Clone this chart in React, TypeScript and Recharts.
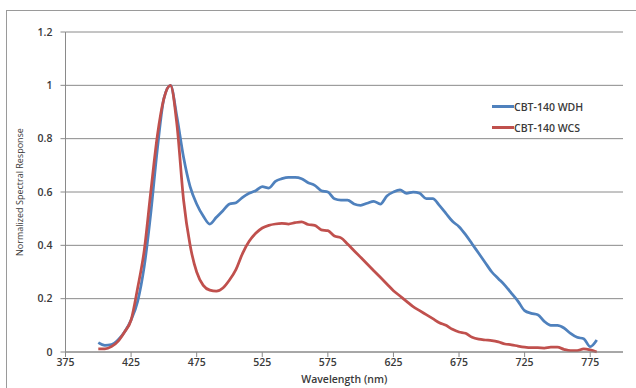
import { LineChart, Line, XAxis, YAxis, CartesianGrid, Legend } from 'recharts'

// wavelength samples (nm), every 5 nm
const wavelengths = [
  400, 405, 410, 415, 420, 425, 430, 435, 440, 445, 450, 455, 460, 465, 470, 475, 480, 485, 490, 495,
  500, 505, 510, 515, 520, 525, 530, 535, 540, 545, 550, 555, 560, 565, 570, 575, 580, 585, 590, 595,
  600, 605, 610, 615, 620, 625, 630, 635, 640, 645, 650, 655, 660, 665, 670, 675, 680, 685, 690, 695,
  700, 705, 710, 715, 720, 725, 730, 735, 740, 745, 750, 755, 760, 765, 770, 775, 780,
]

const wdh = [
  0.035, 0.025, 0.028, 0.045, 0.075, 0.12, 0.19, 0.32, 0.52, 0.76, 0.95, 1.0, 0.88, 0.73, 0.62, 0.555, 0.51, 0.48, 0.505, 0.53,
  0.555, 0.56, 0.58, 0.595, 0.605, 0.62, 0.615, 0.64, 0.65, 0.655, 0.655, 0.65, 0.635, 0.625, 0.605, 0.6, 0.575, 0.57, 0.57, 0.555,
  0.55, 0.558, 0.565, 0.555, 0.585, 0.6, 0.608, 0.595, 0.6, 0.595, 0.575, 0.575, 0.55, 0.52, 0.49, 0.47, 0.44, 0.405, 0.37, 0.335,
  0.3, 0.275, 0.25, 0.22, 0.19, 0.155, 0.145, 0.14, 0.115, 0.1, 0.1, 0.09, 0.07, 0.055, 0.05, 0.02, 0.045,
]

const wcs = [
  0.012, 0.012, 0.02, 0.04, 0.075, 0.12, 0.24, 0.38, 0.6, 0.81, 0.95, 1.0, 0.85, 0.57, 0.4, 0.3, 0.25, 0.232, 0.228, 0.24,
  0.27, 0.31, 0.37, 0.415, 0.445, 0.465, 0.475, 0.48, 0.482, 0.48, 0.485, 0.488, 0.478, 0.475, 0.458, 0.455, 0.435, 0.428, 0.405, 0.38,
  0.355, 0.33, 0.305, 0.28, 0.255, 0.23, 0.21, 0.19, 0.17, 0.155, 0.14, 0.125, 0.11, 0.1, 0.085, 0.075, 0.07, 0.055, 0.048, 0.045,
  0.043, 0.038, 0.03, 0.027, 0.022, 0.018, 0.016, 0.016, 0.015, 0.018, 0.018, 0.01, 0.005, 0.005, 0.012, 0.008, 0.0,
]

const seriesNames = ['CBT-140 WDH', 'CBT-140 WCS']
const xTicks = [375, 425, 475, 525, 575, 625, 675, 725, 775]
const yTicks = [0, 0.2, 0.4, 0.6, 0.8, 1, 1.2]

const data = wavelengths.map((wl, i) => ({ wl, wdh: wdh[i], wcs: wcs[i] }))

const FONT = '"Open Sans", sans-serif'
const GRID = '#8a8a8a'
const TEXT = '#3a3a3a'

const LegendBox = ({ payload }: any) => {
  const items = [...(payload || [])].sort((a: any, b: any) => seriesNames.indexOf(a.value) - seriesNames.indexOf(b.value))
  return (
    <div style={{ fontFamily: FONT, fontSize: 10.5, fontWeight: 600, color: TEXT }}>
      {items.map((p: any) => (
        <div key={p.value} style={{ display: 'flex', alignItems: 'center', height: 21 }}>
          <span style={{ display: 'inline-block', width: 22, height: 3, background: p.color }}></span>
          <span>{p.value}</span>
        </div>
      ))}
    </div>
  )
}

const YTitle = ({ viewBox }: any) => {
  const x = 19
  const y = viewBox.y + viewBox.height / 2
  return (
    <text
      x={x}
      y={y}
      transform={`rotate(-90, ${x}, ${y})`}
      textAnchor="middle"
      dominantBaseline="central"
      fontFamily={FONT}
      fontSize={9}
      fill={TEXT}
    >
      Normalized Spectral Response
    </text>
  )
}

export default function App() {
  return (
    <div style={{ position: 'absolute', left: 0, top: 0, width: 636, height: 388, overflow: 'hidden', background: '#fff' }}>
      <div style={{ position: 'absolute', left: 6, top: 10, width: 660, height: 420, border: '1px solid #9a9a9a' }}></div>
      <LineChart width={636} height={388} data={data} margin={{ top: 32, right: 13, bottom: 0, left: 0 }}>
        <CartesianGrid vertical={false} stroke={GRID} strokeWidth={1} />
        <XAxis
          type="number"
          dataKey="wl"
          domain={[375, 800]}
          ticks={xTicks}
          allowDataOverflow
          height={36}
          stroke={GRID}
          tickSize={5}
          tickMargin={2}
          tick={{ fill: TEXT, fontSize: 10.5, fontWeight: 600, fontFamily: FONT }}
          label={{ value: 'Wavelength (nm)', position: 'insideBottom', offset: 5, fill: TEXT, fontSize: 10.5, fontWeight: 600, fontFamily: FONT }}
        />
        <YAxis
          type="number"
          domain={[0, 1.2]}
          ticks={yTicks}
          width={65.5}
          stroke={GRID}
          tickSize={5}
          tickMargin={8}
          tick={{ fill: TEXT, fontSize: 10.5, fontWeight: 600, fontFamily: FONT }}
          label={<YTitle />}
        />
        <Legend
          layout="vertical"
          verticalAlign="middle"
          align="center"
          content={<LegendBox />}
          wrapperStyle={{ left: 492, top: 96, width: 120 }}
        />
        <Line
          name={seriesNames[0]}
          type="monotone"
          dataKey="wdh"
          stroke="#4f81bd"
          strokeWidth={2.75}
          dot={false}
          isAnimationActive={false}
        />
        <Line
          name={seriesNames[1]}
          type="monotone"
          dataKey="wcs"
          stroke="#c0504d"
          strokeWidth={2.75}
          dot={false}
          isAnimationActive={false}
        />
      </LineChart>
    </div>
  )
}
